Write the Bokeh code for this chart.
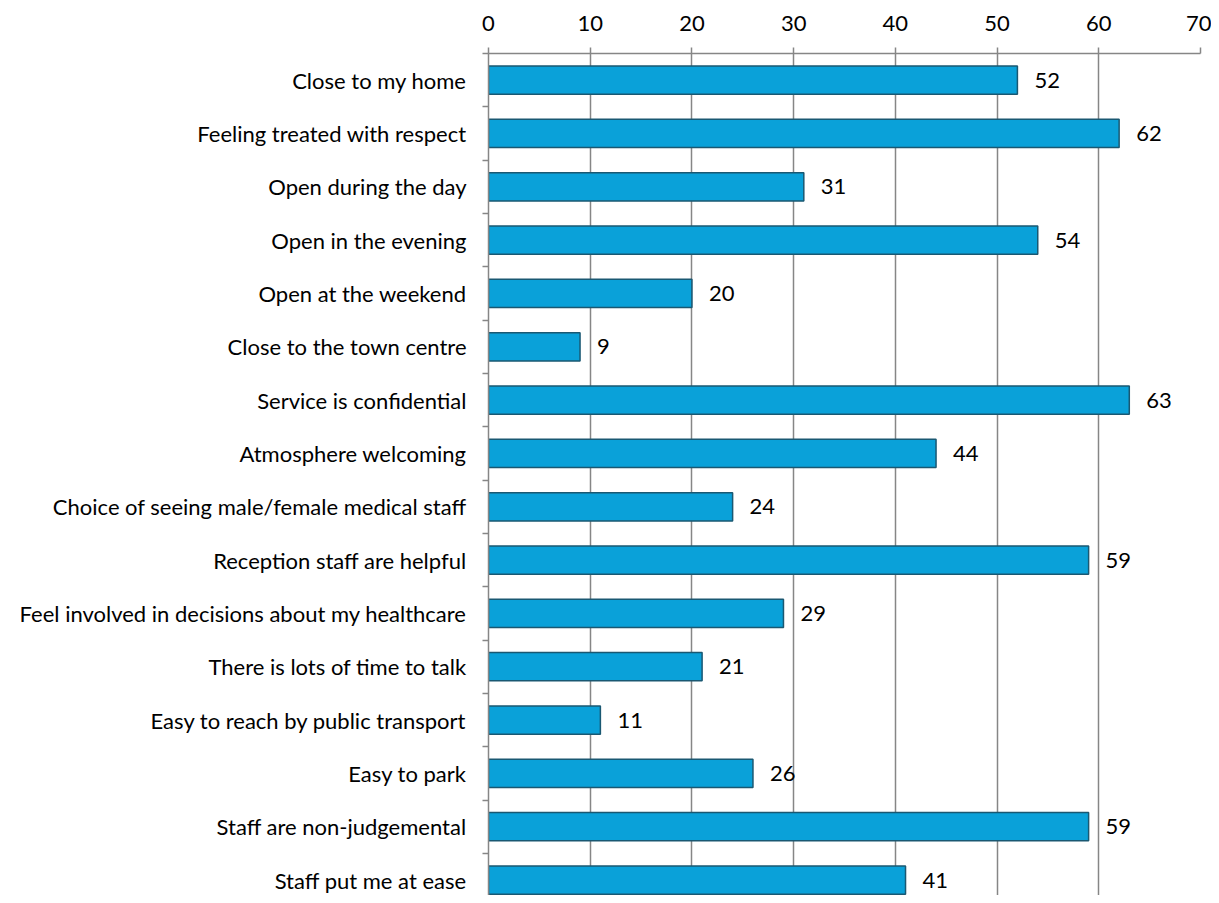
from bokeh.plotting import figure
from bokeh.models import Range1d, FixedTicker, ColumnDataSource, LabelSet
from bokeh.core.properties import value
from bokeh.embed import file_html
from bokeh.resources import INLINE

categories = [
    "Close to my home",
    "Feeling treated with respect",
    "Open during the day",
    "Open in the evening",
    "Open at the weekend",
    "Close to the town centre",
    "Service is confidential",
    "Atmosphere welcoming",
    "Choice of seeing male/female medical staff",
    "Reception staff are helpful",
    "Feel involved in decisions about my healthcare",
    "There is lots of time to talk",
    "Easy to reach by public transport",
    "Easy to park",
    "Staff are non-judgemental",
    "Staff put me at ease",
]
values = [52, 62, 31, 54, 20, 9, 63, 44, 24, 59, 29, 21, 11, 26, 59, 41]
x_ticks = [0, 10, 20, 30, 40, 50, 60, 70]

FONT = "Lato"
FS = "22px"
n = len(categories)
centers = [n - i - 0.5 for i in range(n)]
boundaries = list(range(1, n + 1))

src = ColumnDataSource(dict(y=centers, v=values, lab=[str(v) for v in values]))

p = figure(width=1211, height=895, output_backend="svg", toolbar_location=None,
           x_range=Range1d(0, 70), y_range=Range1d(0.21, 16),
           x_axis_location="above",
           min_border_left=488, min_border_right=11, min_border_top=53, min_border_bottom=0)
p.outline_line_color = None

p.hbar(y="y", right="v", left=0, height=0.53, source=src,
       fill_color="#0AA1D9", line_color="#1A5872", line_width=1.5)

labels = LabelSet(x="v", y="y", text="lab", source=src, x_offset=17,
                  text_baseline="middle", text_align="left",
                  text_font=value(FONT), text_font_size=value(FS), text_color="#000000")
p.add_layout(labels)

xa = p.xaxis[0]
xa.ticker = FixedTicker(ticks=x_ticks, minor_ticks=[])
xa.axis_line_color = "#868686"
xa.axis_line_width = 1.5
xa.major_tick_line_color = "#868686"
xa.major_tick_line_width = 1.5
xa.major_tick_out = 6
xa.major_tick_in = 0
xa.minor_tick_line_color = None
xa.major_label_text_font = FONT
xa.major_label_text_font_size = FS
xa.major_label_text_color = "#000000"
xa.major_label_standoff = 17

ya = p.yaxis[0]
ya.ticker = FixedTicker(ticks=centers, minor_ticks=boundaries)
ya.major_label_overrides = {c: cat for c, cat in zip(centers, categories)}
ya.axis_line_color = "#868686"
ya.axis_line_width = 1.5
ya.major_tick_line_color = None
ya.major_tick_out = 0
ya.major_tick_in = 0
ya.minor_tick_line_color = "#868686"
ya.minor_tick_line_width = 1.5
ya.minor_tick_out = 6
ya.minor_tick_in = 0
ya.major_label_text_font = FONT
ya.major_label_text_font_size = FS
ya.major_label_text_color = "#000000"
ya.major_label_standoff = 16

p.xgrid.grid_line_color = "#868686"
p.xgrid.grid_line_width = 1.5
p.ygrid.grid_line_color = None

open("out.html", "w").write(file_html(p, INLINE))
